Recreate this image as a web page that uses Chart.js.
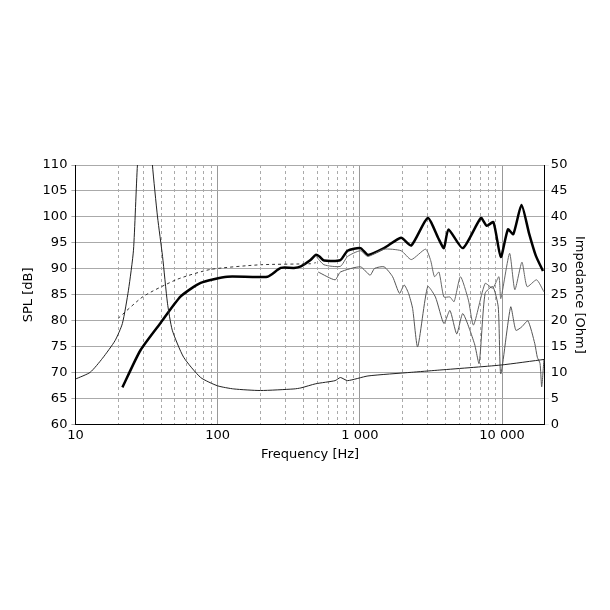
<!DOCTYPE html>
<html>
<head>
<meta charset="utf-8">
<script src="https://cdn.jsdelivr.net/npm/chart.js@4"></script>
<style>
  body { margin: 0; background: #fff; }
  #wrap { width: 610px; height: 610px; }
</style>
</head>
<body>
<div id="wrap"><canvas id="chart" width="610" height="610"></canvas></div>
<script>
// on-axis SPL (thick)
const spl_f = [21.4, 28.6, 39.7, 55, 76, 117, 224, 278, 344, 385, 450, 490, 520, 560, 730, 820, 1010, 1140, 1480, 1950, 2300, 3000, 3550, 3900, 4200, 5300, 7100, 7800, 8700, 9800, 11000, 12000, 13700, 15500, 17300, 19400];
const spl_db = [67.2, 74.3, 79.6, 84.7, 87.3, 88.5, 88.5, 90.2, 90.2, 90.5, 91.7, 92.7, 92.4, 91.6, 91.7, 93.5, 94, 92.7, 94, 96, 94.5, 99.8, 96, 94, 97.6, 94, 99.8, 98.3, 99, 92.3, 97.6, 96.7, 102.3, 96.8, 92.5, 89.6];

// simulated / baffle response (dashed)
const sim_f = [20, 30, 52, 89, 200, 450, 490];
const sim_db = [80.5, 84.7, 88, 89.9, 90.8, 91, 91.2];

// off-axis 30 deg
const off30_f = [490, 560, 730, 820, 1010, 1140, 1480, 1950, 2300, 2900, 3150, 3350, 3600, 3900, 4300, 4600, 5100, 5800, 6300, 7600, 8600, 9500, 9800, 11300, 12300, 13800, 15000, 17500, 19700];
const off30_db = [92.5, 90.8, 90.5, 92.4, 93.5, 92.4, 93.8, 93.5, 91.8, 93.8, 91.6, 88.5, 89.4, 84.6, 84.6, 83.7, 88.5, 84, 79.2, 87.2, 86.3, 88.5, 84.3, 93, 86, 91.3, 86.6, 87.9, 85.6];

// off-axis 60 deg
const off60_f = [510, 670, 730, 1010, 1180, 1270, 1480, 1700, 1900, 2050, 2200, 2350, 2550, 3000, 3400, 3900, 4300, 4800, 5300, 6400, 6900, 7600, 8600, 9400, 9800, 11500, 12500, 13700, 15200, 17000, 17700, 18500, 19000, 19700];
const off60_db = [89.4, 87.9, 89.4, 90.4, 88.8, 90.1, 90.4, 88.5, 85.3, 86.9, 85.3, 82.4, 75, 86.6, 84.6, 79.5, 82, 77.5, 81.4, 75.6, 71.8, 85.3, 86.6, 82.7, 69.8, 82.7, 78.2, 78.8, 80, 75.6, 73, 71.8, 67.3, 72.5];

// impedance [Ohm]
const imp_f = [10, 12.7, 15.5, 19, 21.4, 23.6, 25.6, 27.3, 31, 34.8, 37.8, 41, 44.4, 48, 57.7, 76, 100, 130, 200, 344, 385, 490, 670, 730, 820, 1140, 2300, 3500, 9800, 20000];
const imp_ohm = [8.8, 10.1, 12.8, 16.2, 19.5, 25.9, 33.6, 50, 70, 50, 40, 32.4, 23.4, 18.2, 13, 9.1, 7.5, 6.9, 6.6, 6.9, 7.1, 7.9, 8.5, 9.1, 8.5, 9.4, 10.1, 10.5, 11.5, 12.6];

const decades = [10, 100, 1000, 10000];
const x_ticks = [];
[10, 100, 1000, 10000].forEach(d => { for (let m = 1; m <= 9; m++) if (d * m <= 20000) x_ticks.push(d * m); });
x_ticks.push(20000);

function pts(xs, ys) { return xs.map((x, i) => ({ x: x, y: ys[i] })); }

const font = { family: "DejaVu Sans", size: 13 };

new Chart(document.getElementById("chart"), {
  type: "line",
  data: {
    datasets: [
      { data: pts(imp_f, imp_ohm), yAxisID: "y2", borderColor: "#222", borderWidth: 1 },
      { data: pts(sim_f, sim_db), yAxisID: "y", borderColor: "#333", borderWidth: 1, borderDash: [3, 3] },
      { data: pts(off60_f, off60_db), yAxisID: "y", borderColor: "#555", borderWidth: 1 },
      { data: pts(off30_f, off30_db), yAxisID: "y", borderColor: "#666", borderWidth: 1 },
      { data: pts(spl_f, spl_db), yAxisID: "y", borderColor: "#000", borderWidth: 2.5 }
    ]
  },
  options: {
    responsive: false,
    animation: false,
    layout: { padding: { top: 165, bottom: 148, left: 19, right: 21 } },
    elements: { point: { radius: 0 }, line: { tension: 0.2 } },
    plugins: { legend: { display: false }, tooltip: { enabled: false } },
    scales: {
      x: {
        type: "logarithmic", min: 10, max: 20000,
        afterBuildTicks: ax => { ax.ticks = x_ticks.map(v => ({ value: v })); },
        ticks: { autoSkip: false, maxRotation: 0, color: "#000", font: font,
          callback: v => decades.includes(v) ? (v >= 1000 ? String(v).replace(/(\d)(?=(\d{3})+$)/g, "$1 ") : String(v)) : "" },
        grid: { color: ctx => decades.includes(ctx.tick && ctx.tick.value) ? "#999" : "#aaa", drawTicks: false },
        border: { color: "#000", dash: ctx => decades.includes(ctx.tick && ctx.tick.value) ? [] : [3, 3] },
        title: { display: true, text: "Frequency [Hz]", color: "#000", font: font, padding: 0 }
      },
      y: {
        position: "left", min: 60, max: 110,
        ticks: { stepSize: 5, color: "#000", font: font, padding: 4 },
        grid: { color: "#aaa", drawTicks: true, tickLength: 4 },
        border: { color: "#000" },
        title: { display: true, text: "SPL [dB]", color: "#000", font: font, padding: 2 }
      },
      y2: {
        position: "right", min: 0, max: 50,
        ticks: { stepSize: 5, color: "#000", font: font, padding: 2 },
        grid: { drawOnChartArea: false, tickLength: 4 },
        border: { color: "#000" },
        title: { display: true, text: "Impedance [Ohm]", color: "#000", font: font, padding: 2 }
      }
    }
  }
});
</script>
</body>
</html>
